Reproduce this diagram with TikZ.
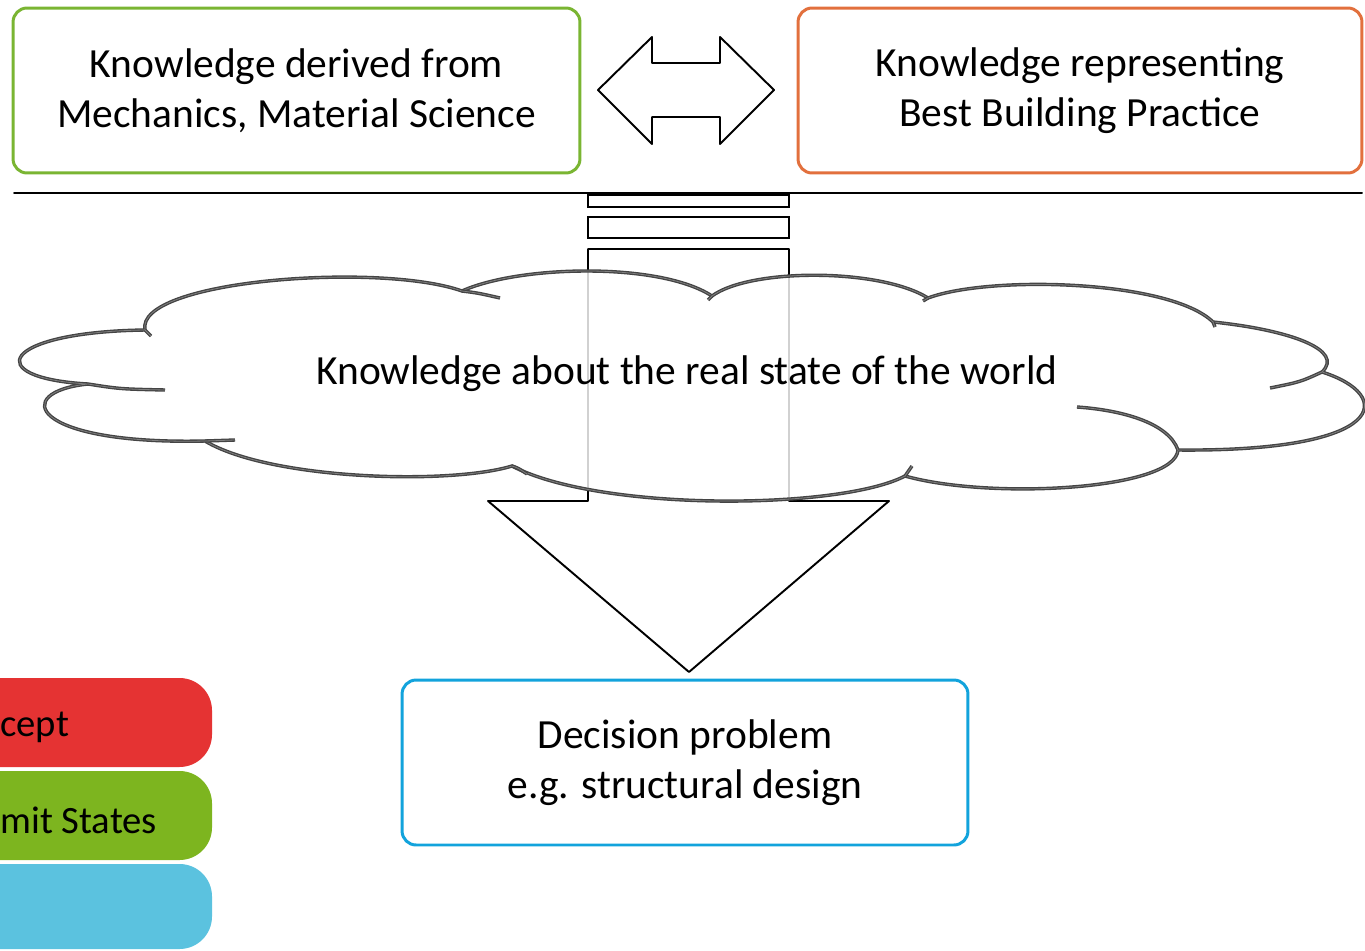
\documentclass[tikz,border=0pt]{standalone}
\usepackage{fontspec}
\setmainfont{Carlito}
\usepackage{tkz-euclide}
\usetikzlibrary{calc}

\definecolor{mechgreen}{HTML}{7AB532}
\definecolor{practorange}{HTML}{E2703D}
\definecolor{decblue}{HTML}{12A3DC}
\definecolor{tabred}{HTML}{E53333}
\definecolor{tabgreen}{HTML}{7DB51F}
\definecolor{tabcyan}{HTML}{5BC2DF}
\definecolor{cloudgray}{HTML}{444444}

\tikzset{
  kbox/.style={draw, line width=1.7pt, rounded corners=0.28cm, minimum height=3.3cm,
    align=center, font=\fontsize{23.6}{28.4}\selectfont},
  ktext/.style={font=\fontsize{23.6}{28.4}\selectfont, inner sep=0pt},
  tabtext/.style={font=\fontsize{22}{26}\selectfont, inner sep=0pt},
  cloudline/.style={draw=cloudgray, line width=0.75pt, double=black!50, double distance=0.45pt},
  blockarrow/.style={draw=black, line width=1.1pt, fill=white}
}

\begin{document}
\begin{tikzpicture}[x=0.02cm, y=-0.02cm]
            \useasboundingbox (0,0) rectangle (1365,950);
            % the three knowledge / decision boxes
            \node[kbox, draw=mechgreen, minimum width=11.34cm] (mech) at (296.5,90.5)
              {Knowledge derived from\\Mechanics, Material Science};
            \node[kbox, draw=practorange, minimum width=11.28cm] (practice) at (1080,90.5)
              {Knowledge representing\\Best Building Practice};
            \node[kbox, draw=decblue, minimum width=11.32cm] (decision) at (685,762.5)
              {Decision problem\\e.g. structural design};
            % double arrow between the two sources
            \tkzDefPoints{598/90/L,652/37/LT,652/63/LS,720/63/RS,720/37/RT,
              774/90/R,720/144/RB,720/117/RSb,652/117/LSb,652/144/LB}
            \tkzDrawPolygon[blockarrow](L,LT,LS,RS,RT,R,RB,RSb,LSb,LB)
            % separator
            \tkzDefPoints{14/193/W,1362/193/E}
            \tkzDrawSegment[line width=1.1pt,color=black](W,E)
            % striped down arrow
            \tkzDefPoints{588/195/P1,789/207/P2,588/217/P3,789/238/P4}
            \draw[blockarrow] (P1) rectangle (P2);
            \draw[blockarrow] (P3) rectangle (P4);
            \tkzDefPoints{588/249/A,789/249/B,789/501/C,889/501/D,689/672/T,488/501/F,588/501/G}
            \tkzDrawPolygon[blockarrow](A,B,C,D,T,F,G)
            % cloud on top of the arrow shaft
            \draw[cloudline, fill=white, fill opacity=0.82]
              (145,330) .. controls (135,280) and (380,262) .. (462,291)
              .. controls (520,265) and (660,262) .. (712,296)
              .. controls (750,268) and (880,268) .. (928,298)
              .. controls (990,275) and (1170,280) .. (1213,322)
              .. controls (1290,330) and (1345,350) .. (1322,372)
              .. controls (1395,395) and (1390,452) .. (1178,450)
              .. controls (1175,490) and (990,500) .. (905,476)
              .. controls (840,510) and (600,512) .. (512,466)
              .. controls (450,485) and (270,480) .. (205,441)
              .. controls (30,445) and (10,392) .. (88,384)
              .. controls (-20,378) and (0,332) .. (145,330) -- cycle;
            \draw[cloudline] (462,291) .. controls (478,293) .. (500,298);
            \draw[cloudline] (1322,372) .. controls (1300,382) .. (1270,388);
            \draw[cloudline] (1178,450) .. controls (1168,422) and (1120,410) .. (1077,407);
            \draw[cloudline] (512,466) .. controls (518,468) .. (527,474);
            \draw[cloudline] (205,441) -- (235,440);
            \draw[cloudline] (88,384) .. controls (120,389) .. (165,390);
            \draw[cloudline] (145,330) -- (151,336);
            \draw[cloudline] (712,296) -- (708,300);
            \draw[cloudline] (928,298) -- (923,301);
            \draw[cloudline] (1213,322) -- (1215,327);
            \draw[cloudline] (905,476) -- (912,466);
            \node[ktext] (world) at (687,374) {Knowledge about the real state of the world};
            % coloured tabs cut by the left edge
            \begin{scope}
              \clip (0,0) rectangle (1365,950);
              \fill[tabred, rounded corners=0.65cm] (-80,678) rectangle (212,767);
              \fill[tabgreen, rounded corners=0.65cm] (-80,771) rectangle (212,860);
              \fill[tabcyan, rounded corners=0.65cm] (-80,864) rectangle (212,949);
              \node[tabtext, anchor=base west] (concept) at (0,736) {cept};
              \node[tabtext, anchor=base west] (limits) at (0,833) {mit States};
            \end{scope}
        \end{tikzpicture}
\end{document}
